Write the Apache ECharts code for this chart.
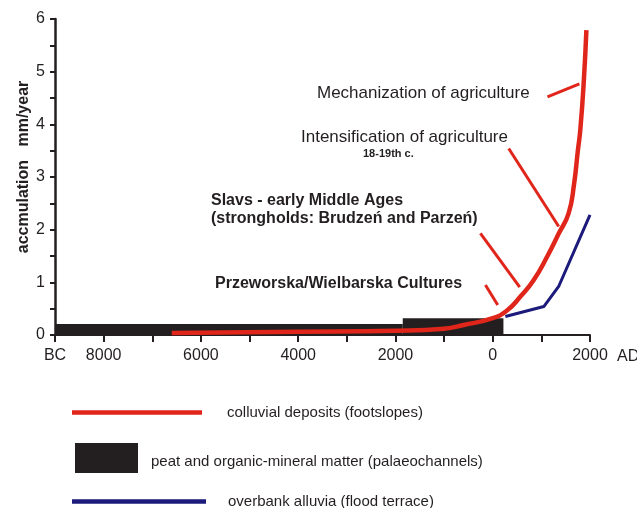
<!DOCTYPE html>
<html>
<head>
<meta charset="utf-8">
<script src="https://cdn.jsdelivr.net/npm/echarts@6/dist/echarts.min.js"></script>
<style>
html,body{margin:0;padding:0;background:#fff}
#chart{width:637px;height:508px}
</style>
</head>
<body>
<div id="chart"></div>
<script>
// colluvial deposits (footslopes): year, accumulation mm/year
var colluvialYears = [-6600, -4000, -2000, -1000, -600, 0, 300, 570, 840, 1120, 1360, 1560, 1670, 1750, 1800, 1870, 1926];
var colluvialValues = [0.04, 0.06, 0.08, 0.12, 0.19, 0.32, 0.47, 0.73, 1.04, 1.49, 1.93, 2.31, 2.85, 3.5, 3.89, 4.78, 5.79];

// overbank alluvia (flood terrace)
var alluviaYears = [260, 1050, 1360, 2000];
var alluviaValues = [0.35, 0.54, 0.93, 2.28];

// peat and organic-mineral matter, blocks from -> to
var peatFrom = [-9000, -1850];
var peatTo = [-1850, 220];
var peatValues = [0.21, 0.32];

// x tick labels (BC left, AD right)
var xTickLabels = {'-9000': 'BC', '-8000': '8000', '-6000': '6000', '-4000': '4000', '-2000': '2000', '0': '0', '2000': '2000'};

var RED = '#e0251b', BLUE = '#1c1a7a', BLACK = '#231f20', TXT = '#231f20';
var FONT = '"Liberation Sans", Arial, sans-serif';

var colluvial = colluvialYears.map(function (y, i) { return [y, colluvialValues[i]]; });
var alluvia = alluviaYears.map(function (y, i) { return [y, alluviaValues[i]]; });
var peat = peatFrom.map(function (f, i) { return [f, peatTo[i], peatValues[i]]; });

var chart = echarts.init(document.getElementById('chart'));

var option = {
    backgroundColor: '#fff',
    animation: false,
    textStyle: { fontFamily: FONT },
    grid: { left: 55, right: 47, top: 19, bottom: 173, outerBoundsMode: 'none' },
    xAxis: {
        type: 'value',
        min: -9000,
        max: 2000,
        interval: 1000,
        name: 'AD',
        nameLocation: 'end',
        nameGap: 27,
        nameTextStyle: { color: TXT, fontSize: 16, verticalAlign: 'top', padding: [14, 0, 0, 0] },
        axisLine: { show: true, onZero: false, lineStyle: { color: BLACK, width: 2 } },
        axisTick: { show: true, length: 7, lineStyle: { color: BLACK, width: 2 } },
        axisLabel: {
            color: TXT, fontSize: 16, margin: 13, showMinLabel: true, showMaxLabel: true,
            formatter: function (v) {
                var k = String(v);
                return xTickLabels[k] !== undefined ? xTickLabels[k] : '';
            }
        },
        splitLine: { show: false }
    },
    yAxis: {
        type: 'value',
        min: 0,
        max: 6,
        interval: 1,
        name: 'accmulation   mm/year',
        nameLocation: 'middle',
        nameGap: 23,
        nameMoveOverlap: false,
        nameTextStyle: { color: TXT, fontSize: 16, fontWeight: 'bold', padding: [0, 0, 0, 20] },
        axisLine: { show: true, onZero: false, lineStyle: { color: BLACK, width: 2.5 } },
        axisTick: { show: true, length: 5, lineStyle: { color: BLACK, width: 2 } },
        minorTick: { show: true, splitNumber: 2, length: 5, lineStyle: { color: BLACK, width: 2 } },
        axisLabel: { color: TXT, fontSize: 16, margin: 10 },
        splitLine: { show: false }
    },
    legend: [
        {
            data: ['colluvial deposits (footslopes)'],
            left: 72, top: 405, padding: 0, icon: 'rect',
            itemWidth: 130, itemHeight: 4.5, selectedMode: false,
            textStyle: { color: TXT, fontSize: 15, padding: [0, 0, 0, 20] }
        },
        {
            data: ['peat and organic-mineral matter (palaeochannels)'],
            left: 75, top: 443, padding: 0, icon: 'rect',
            itemWidth: 63, itemHeight: 30, selectedMode: false,
            formatter: '{t|{name}}',
            textStyle: {
                color: TXT, fontSize: 15, padding: [0, 0, 0, 8],
                rich: { t: { color: TXT, fontSize: 15, padding: [7, 0, 0, 0] } }
            }
        },
        {
            data: ['overbank alluvia (flood terrace)'],
            left: 72, top: 494, padding: 0, icon: 'rect',
            itemWidth: 134, itemHeight: 4.5, selectedMode: false,
            textStyle: { color: TXT, fontSize: 15, padding: [0, 0, 0, 17] }
        }
    ],
    series: [
        {
            name: 'peat and organic-mineral matter (palaeochannels)',
            type: 'custom',
            itemStyle: { color: BLACK },
            z: 1,
            renderItem: function (params, api) {
                var p0 = api.coord([api.value(0), api.value(2)]);
                var p1 = api.coord([api.value(1), 0]);
                return {
                    type: 'rect',
                    shape: { x: p0[0], y: p0[1], width: p1[0] - p0[0], height: p1[1] - p0[1] },
                    style: { fill: BLACK }
                };
            },
            encode: { x: [0, 1], y: 2 },
            data: peat
        },
        {
            name: 'overbank alluvia (flood terrace)',
            type: 'line',
            z: 3,
            showSymbol: false,
            color: BLUE,
            lineStyle: { color: BLUE, width: 3 },
            data: alluvia
        },
        {
            name: 'colluvial deposits (footslopes)',
            type: 'line',
            z: 4,
            showSymbol: false,
            smooth: 0.5,
            color: RED,
            lineStyle: { color: RED, width: 4.5 },
            data: colluvial,
            markLine: {
                silent: true,
                symbol: ['none', 'none'],
                label: { show: false },
                lineStyle: { color: RED, width: 3, type: 'solid' },
                emphasis: { disabled: true },
                data: [
                    [{ coord: [1125, 4.52] }, { coord: [1782, 4.77] }],
                    [{ coord: [329, 3.54] }, { coord: [1357, 2.06] }],
                    [{ coord: [-253, 1.93] }, { coord: [555, 0.91] }],
                    [{ coord: [-150, 0.95] }, { coord: [103, 0.57] }]
                ]
            }
        }
    ],
    graphic: [
        { type: 'text', left: 317, top: 85, style: { text: 'Mechanization of agriculture', font: '17px ' + FONT, fill: TXT } },
        { type: 'text', left: 301, top: 129, style: { text: 'Intensification of agriculture', font: '17px ' + FONT, fill: TXT } },
        { type: 'text', left: 363, top: 148, style: { text: '18-19th c.', font: 'bold 11px ' + FONT, fill: TXT } },
        { type: 'text', left: 211, top: 193, style: { text: 'Slavs - early Middle Ages', font: 'bold 16px ' + FONT, fill: TXT } },
        { type: 'text', left: 211, top: 211, style: { text: '(strongholds: Brudzeń and Parzeń)', font: 'bold 16px ' + FONT, fill: TXT } },
        { type: 'text', left: 215, top: 276, style: { text: 'Przeworska/Wielbarska Cultures', font: 'bold 16px ' + FONT, fill: TXT } }
    ]
};

chart.setOption(option);
</script>
</body>
</html>
